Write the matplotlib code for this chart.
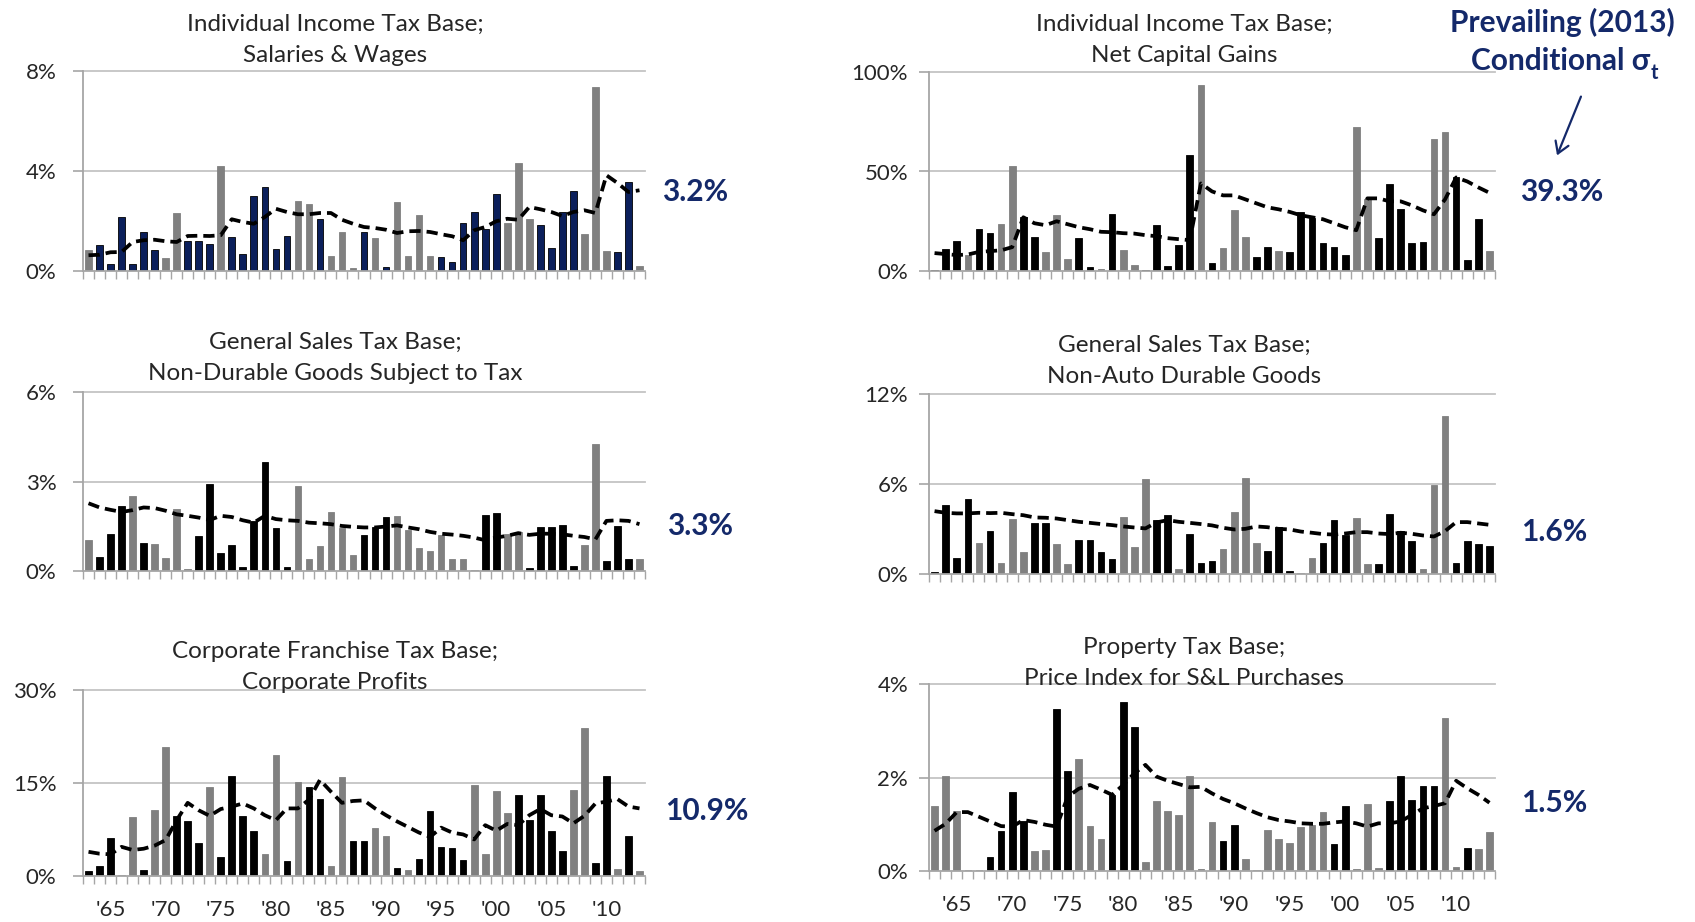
import matplotlib
matplotlib.use("Agg")
import matplotlib.pyplot as plt
import numpy as np

plt.rcParams['font.family'] = ['Lato', 'DejaVu Sans']

# ---- data ---------------------------------------------------------------
years = list(range(1963, 2014))
label_years = [1965, 1970, 1975, 1980, 1985, 1990, 1995, 2000, 2005, 2010]
year_labels = ["'65", "'70", "'75", "'80", "'85", "'90", "'95", "'00", "'05", "'10"]

# annual change in each base (%), 'd' = dark bar, 'g' = gray bar
wages = [0.85, 1.05, 0.27, 2.16, 0.27, 1.55, 0.83, 0.53, 2.33, 1.20,
         1.20, 1.09, 4.19, 1.35, 0.68, 2.99, 3.35, 0.89, 1.40, 2.79,
         2.69, 2.07, 0.59, 1.57, 0.13, 1.55, 1.31, 0.17, 2.75, 0.59,
         2.23, 0.59, 0.57, 0.37, 1.92, 2.37, 1.69, 3.09, 1.93, 4.33,
         2.07, 1.83, 0.93, 2.36, 3.19, 1.48, 7.36, 0.80, 0.75, 3.55, 0.19]
wages_shade = "gddddddggd" "ddgddddddg" "gdgggdgdgg" "ggddddddgg" "gddddgggddg"
wages_sigma = [0.63, 0.65, 0.75, 0.76, 1.16, 1.23, 1.25, 1.19, 1.16, 1.40,
               1.41, 1.40, 1.43, 2.07, 1.96, 1.89, 2.16, 2.49, 2.36, 2.27,
               2.27, 2.32, 2.32, 2.05, 1.89, 1.76, 1.72, 1.65, 1.52, 1.59,
               1.60, 1.56, 1.47, 1.39, 1.23, 1.63, 1.76, 1.99, 2.09, 2.05,
               2.56, 2.47, 2.36, 2.20, 2.36, 2.43, 2.32, 3.83, 3.52, 3.16, 3.23]

gains = [0.5, 11, 15, 8, 21, 19, 23.5, 52.8, 27, 17,
         9.5, 28, 6, 16.5, 2, 1, 28.7, 10.5, 3, 0.5,
         22.9, 2.5, 13, 58.3, 93.6, 4, 11.5, 30.6, 17, 7,
         12, 10, 9.5, 29.7, 26.4, 14, 12, 8, 72.6, 36,
         16.5, 43.5, 31.3, 14, 14.5, 66.2, 70, 47.4, 5.5, 26, 10]
gains_shade = "dddgddggdd" "gggddgdggd" "ddddgdgggd" "dgddddddgg" "dddddggdddg"
gains_sigma = [9, 8.5, 8, 8.3, 9.6, 10, 10.4, 12, 27, 24,
               23, 25, 23.5, 22, 21, 19.7, 19.5, 19, 18.8, 18,
               17.5, 16.5, 16, 15.5, 44, 40, 38, 38, 36, 34,
               32, 31, 29.7, 28, 27, 26, 24, 22, 20.5, 36.5,
               36.5, 35, 35, 33, 30.5, 28.5, 36, 47, 45, 42, 39.3]

nondurables = [1.04, 0.47, 1.25, 2.19, 2.51, 0.95, 0.91, 0.44, 2.08, 0.06,
               1.16, 2.93, 0.60, 0.86, 0.12, 1.67, 3.66, 1.43, 0.12, 2.84,
               0.39, 0.83, 1.98, 1.43, 0.53, 1.21, 1.48, 1.81, 1.86, 1.38,
               0.78, 0.66, 1.19, 0.39, 0.39, 0.04, 1.89, 1.94, 1.23, 1.32,
               0.09, 1.47, 1.47, 1.55, 0.17, 0.87, 4.27, 0.35, 1.51, 0.39, 0.40]
nondurables_shade = "gdddgdgggg" "dddddddddg" "gggggdddgg" "ggggggddgg" "dddddggdddg"
nondurables_sigma = [2.27, 2.13, 2.05, 1.98, 2.04, 2.13, 2.11, 2.02, 1.90, 1.85,
                     1.79, 1.71, 1.85, 1.81, 1.70, 1.62, 1.85, 1.74, 1.70, 1.68,
                     1.62, 1.60, 1.57, 1.51, 1.48, 1.46, 1.46, 1.49, 1.53, 1.46,
                     1.40, 1.31, 1.25, 1.22, 1.18, 1.12, 1.03, 1.12, 1.18, 1.27,
                     1.21, 1.25, 1.25, 1.23, 1.18, 1.14, 1.06, 1.68, 1.70, 1.68, 1.57]

durables = [0.15, 4.63, 1.10, 4.97, 2.08, 2.86, 0.71, 3.70, 1.49, 3.37,
            3.37, 2.00, 0.64, 2.24, 2.24, 1.49, 0.98, 3.77, 1.82, 6.32,
            3.59, 3.92, 0.31, 2.66, 0.74, 0.85, 1.70, 4.11, 6.43, 2.05,
            1.54, 3.13, 0.22, 0.07, 1.09, 2.05, 3.57, 2.63, 3.75, 0.67,
            0.67, 4.02, 2.86, 2.21, 0.36, 5.92, 10.54, 0.74, 2.21, 2.03, 1.88]
durables_shade = "ddddgdgggd" "dggddddggg" "ddgdddgggg" "dddggdddgg" "ddddgggdddd"
durables_sigma = [4.19, 4.08, 4.04, 4.04, 4.08, 4.06, 4.08, 3.99, 3.92, 3.77,
                  3.75, 3.70, 3.59, 3.48, 3.41, 3.33, 3.26, 3.17, 3.10, 3.04,
                  3.44, 3.59, 3.48, 3.41, 3.33, 3.24, 3.08, 2.97, 3.01, 3.17,
                  3.12, 3.01, 2.97, 2.83, 2.75, 2.66, 2.63, 2.70, 2.79, 2.79,
                  2.70, 2.66, 2.75, 2.68, 2.57, 2.50, 2.86, 3.46, 3.46, 3.37, 3.28]

profits = [0.76, 1.62, 6.2, 0.22, 9.5, 0.97, 10.6, 20.8, 9.7, 8.9,
           5.35, 14.3, 3.1, 16.1, 9.7, 7.2, 3.5, 19.5, 2.4, 15.1,
           14.3, 12.4, 1.6, 15.9, 5.6, 5.7, 7.7, 6.4, 1.35, 1.0,
           2.8, 10.5, 4.75, 4.5, 2.65, 14.7, 3.5, 13.7, 10.1, 13.0,
           9.1, 13.0, 7.2, 4.1, 13.9, 23.8, 2.05, 16.1, 1.2, 6.4, 0.76]
profits_shade = "dddggdggdd" "dgddddggdg" "ddggddggdg" "dddddggggd" "ddddggddgdg"
profits_sigma = [3.9, 3.6, 3.5, 4.7, 4.2, 4.4, 4.9, 5.8, 9.0, 11.8,
                 10.6, 9.7, 10.8, 11.2, 11.7, 10.9, 9.8, 9.0, 10.9, 10.9,
                 12.3, 15.5, 13.6, 11.8, 12.1, 12.2, 10.9, 9.8, 8.8, 7.9,
                 7.0, 6.3, 7.8, 7.0, 6.7, 5.9, 8.2, 7.3, 8.4, 8.2,
                 9.8, 10.8, 9.8, 9.6, 8.5, 9.7, 11.7, 12.0, 12.4, 11.2, 10.9]

prices = [1.38, 2.04, 1.29, 0.02, 0.02, 0.30, 0.85, 1.68, 1.08, 0.42,
          0.44, 3.46, 2.14, 2.39, 0.97, 0.69, 1.63, 3.62, 3.08, 0.20,
          1.49, 1.29, 1.19, 2.04, 0.04, 1.04, 0.64, 0.99, 0.25, 0.02,
          0.88, 0.69, 0.59, 0.94, 0.99, 1.26, 0.58, 1.38, 0.04, 1.44,
          0.06, 1.49, 2.04, 1.51, 1.81, 1.81, 3.27, 0.09, 0.50, 0.47, 0.83]
prices_shade = "gggggddddg" "gddgggdddg" "ggggggddgg" "ggggggddgg" "gdddddggdgg"
prices_sigma = [0.86, 1.01, 1.26, 1.26, 1.16, 1.06, 0.96, 0.95, 1.09, 1.05,
                0.99, 0.95, 1.59, 1.76, 1.84, 1.74, 1.63, 1.84, 2.09, 2.27,
                2.02, 1.93, 1.86, 1.79, 1.80, 1.66, 1.54, 1.45, 1.34, 1.24,
                1.15, 1.09, 1.06, 1.02, 1.01, 1.01, 1.04, 1.06, 1.02, 0.95,
                1.02, 1.02, 1.06, 1.20, 1.34, 1.39, 1.45, 1.93, 1.77, 1.63, 1.46]

titles = ["Individual Income Tax Base;\nSalaries & Wages",
          "Individual Income Tax Base;\nNet Capital Gains",
          "General Sales Tax Base;\nNon-Durable Goods Subject to Tax",
          "General Sales Tax Base;\nNon-Auto Durable Goods",
          "Corporate Franchise Tax Base;\nCorporate Profits",
          "Property Tax Base;\nPrice Index for S&L Purchases"]
prevailing = ["3.2%", "39.3%", "3.3%", "1.6%", "10.9%", "1.5%"]

# ---- style --------------------------------------------------------------
GRAY = '#808080'
NAVY = '#0B1F5B'
NOTE = '#14296A'
AXIS = '#A6A6A6'
GRID = '#C4C4C4'
TEXT = '#262626'

W, H = 1695, 922
fig = plt.figure(figsize=(W / 100, H / 100), dpi=100)


def fx(x):
    return x / W


def fy(y):
    return 1 - y / H


def make_axes(x0, y0, x1, y1):
    return fig.add_axes([fx(x0), fy(y1), (x1 - x0) / W, (y1 - y0) / H])


def draw_panel(ax, values, shade, sigma, dark, ymax, step, show_years, ypad):
    x = np.arange(len(years))
    face = [dark if s == 'd' else GRAY for s in shade]
    edge = ['#000000' if s == 'd' else GRAY for s in shade]
    ax.bar(x, values, width=0.6, color=face, edgecolor=edge, linewidth=0.6, zorder=2)
    ax.plot(x, sigma, color='black', lw=2.7, ls=(0, (3, 1.6)), zorder=3)

    ax.set_xlim(-0.5, len(years) - 0.5)
    ax.set_ylim(0, ymax)
    ticks = np.arange(0, ymax + step / 2, step)
    ax.set_yticks(ticks)
    ax.set_yticklabels([f"{t:g}%" for t in ticks])
    for t in ticks[1:]:
        ax.axhline(t, color=GRID, lw=1.3, zorder=0, clip_on=False)

    for side in ('top', 'right'):
        ax.spines[side].set_visible(False)
    for side in ('left', 'bottom'):
        ax.spines[side].set_color(AXIS)
        ax.spines[side].set_linewidth(1.3)

    ax.set_xticks(np.arange(-0.5, len(years)), minor=True)
    ax.tick_params(axis='x', which='minor', length=6, width=1, color=AXIS)
    ax.set_xticks([years.index(y) for y in label_years])
    if show_years:
        ax.set_xticklabels(year_labels, fontsize=16, color=TEXT)
    else:
        ax.set_xticklabels([])
    ax.tick_params(axis='x', which='major', length=0, pad=17)
    ax.tick_params(axis='y', length=7, width=1.2, color=AXIS, pad=ypad,
                   labelsize=16, labelcolor=TEXT)


panels = [
    (wages, wages_shade, wages_sigma, NAVY, 8, 4, False, 12, (83, 71, 645, 271)),
    (gains, gains_shade, gains_sigma, 'black', 100, 50, False, 8, (929, 72, 1495, 271)),
    (nondurables, nondurables_shade, nondurables_sigma, 'black', 6, 3, False, 12, (83, 392, 645, 571)),
    (durables, durables_shade, durables_sigma, 'black', 12, 6, False, 8, (929, 394, 1495, 574)),
    (profits, profits_shade, profits_sigma, 'black', 30, 15, True, 12, (83, 690, 645, 876)),
    (prices, prices_shade, prices_sigma, 'black', 4, 2, True, 8, (929, 684, 1495, 871)),
]
title_pos = [(335, 40), (1184, 40), (335, 358), (1184, 361), (335, 667), (1184, 663)]
note_pos = [(695, 192), (1562, 192), (700, 526), (1554, 532), (707, 811), (1554, 803)]

for (vals, shade, sig, dark, ymax, step, show, ypad, box), title, tpos, note, npos in zip(
        panels, titles, title_pos, prevailing, note_pos):
    ax = make_axes(*box)
    draw_panel(ax, vals, shade, sig, dark, ymax, step, show, ypad)
    fig.text(fx(tpos[0]), fy(tpos[1]), title, ha='center', va='center',
             fontsize=17.5, color=TEXT, linespacing=1.58)
    fig.text(fx(npos[0]), fy(npos[1]), note, ha='center', va='center',
             fontsize=21.5, fontweight='bold', color=NOTE)

# header for the prevailing-volatility column
fig.text(fx(1562), fy(22), "Prevailing (2013)", ha='center', va='center',
         fontsize=21.5, fontweight='bold', color=NOTE)
fig.text(fx(1650), fy(61), "Conditional σ", ha='right', va='center',
         fontsize=21.5, fontweight='bold', color=NOTE)
fig.text(fx(1651), fy(73), "t", ha='left', va='center',
         fontsize=14.5, fontweight='bold', color=NOTE)
fig.add_artist(matplotlib.patches.FancyArrowPatch(
    (fx(1582), fy(94)), (fx(1556), fy(158)), transform=fig.transFigure,
    arrowstyle='->,head_length=8,head_width=5', color=NOTE, lw=1.6,
    mutation_scale=1))

fig.savefig("out.png", dpi=100)
